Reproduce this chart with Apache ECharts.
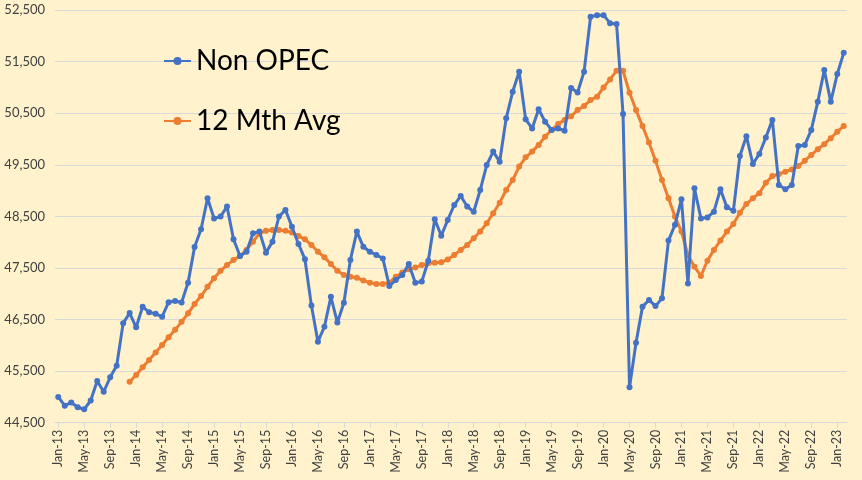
<!DOCTYPE html>
<html>
<head>
<meta charset="utf-8">
<script src="https://cdn.jsdelivr.net/npm/echarts@6/dist/echarts.min.js"></script>
<style>
html,body{margin:0;padding:0;background:#FFF2CC;}
#chart{width:862px;height:480px;}
</style>
</head>
<body>
<div id="chart"></div>
<script>
const categories = [
'Jan-13','Feb-13','Mar-13','Apr-13','May-13','Jun-13','Jul-13','Aug-13','Sep-13','Oct-13','Nov-13','Dec-13',
'Jan-14','Feb-14','Mar-14','Apr-14','May-14','Jun-14','Jul-14','Aug-14','Sep-14','Oct-14','Nov-14','Dec-14',
'Jan-15','Feb-15','Mar-15','Apr-15','May-15','Jun-15','Jul-15','Aug-15','Sep-15','Oct-15','Nov-15','Dec-15',
'Jan-16','Feb-16','Mar-16','Apr-16','May-16','Jun-16','Jul-16','Aug-16','Sep-16','Oct-16','Nov-16','Dec-16',
'Jan-17','Feb-17','Mar-17','Apr-17','May-17','Jun-17','Jul-17','Aug-17','Sep-17','Oct-17','Nov-17','Dec-17',
'Jan-18','Feb-18','Mar-18','Apr-18','May-18','Jun-18','Jul-18','Aug-18','Sep-18','Oct-18','Nov-18','Dec-18',
'Jan-19','Feb-19','Mar-19','Apr-19','May-19','Jun-19','Jul-19','Aug-19','Sep-19','Oct-19','Nov-19','Dec-19',
'Jan-20','Feb-20','Mar-20','Apr-20','May-20','Jun-20','Jul-20','Aug-20','Sep-20','Oct-20','Nov-20','Dec-20',
'Jan-21','Feb-21','Mar-21','Apr-21','May-21','Jun-21','Jul-21','Aug-21','Sep-21','Oct-21','Nov-21','Dec-21',
'Jan-22','Feb-22','Mar-22','Apr-22','May-22','Jun-22','Jul-22','Aug-22','Sep-22','Oct-22','Nov-22','Dec-22',
'Jan-23','Feb-23'
];

const nonOpec = [
45000,44830,44890,44800,44760,44930,45310,45100,45380,45605,46430,46625,
46350,46750,46640,46610,46555,46835,46860,46830,47215,47905,48250,48850,
48460,48495,48690,48055,47730,47815,48170,48205,47795,48010,48495,48625,
48300,47965,47670,46770,46070,46360,46940,46440,46825,47655,48205,47910,
47815,47750,47685,47150,47265,47365,47575,47215,47235,47640,48445,48125,
48430,48720,48895,48690,48590,49010,49495,49755,49560,50400,50915,51305,
50380,50205,50575,50335,50175,50205,50160,50990,50900,51305,52370,52400,
52400,52245,52230,50485,45185,46050,46750,46880,46760,46910,48030,48335,
48830,47200,49045,48460,48480,48590,49025,48675,48610,49670,50055,49515,
49710,50030,50370,49110,49025,49110,49865,49885,50175,50720,51335,50720,
51260,51670
];

const avg12 = [
null,null,null,null,null,null,null,null,null,null,null,45295,
45425,45575,45715,45860,46005,46155,46300,46455,46620,46800,46955,47135,
47300,47445,47555,47655,47730,47850,48010,48170,48220,48235,48235,48220,
48185,48120,48055,47945,47815,47705,47575,47445,47365,47330,47310,47255,
47215,47190,47190,47215,47330,47410,47475,47510,47555,47590,47600,47610,
47665,47750,47850,47945,48075,48205,48365,48560,48765,49010,49205,49465,
49645,49755,49885,50045,50175,50290,50370,50440,50560,50640,50755,50820,
51000,51155,51320,51320,50895,50560,50250,49930,49580,49205,48850,48495,
48205,47750,47525,47345,47640,47850,48030,48205,48350,48570,48740,48850,
48950,49150,49280,49320,49365,49410,49475,49580,49690,49800,49900,50015,
50140,50250
];

const seriesNames = ['Non OPEC', '12 Mth Avg'];
const colors = ['#4472C4', '#ED7D31'];

const chart = echarts.init(document.getElementById('chart'), null, {renderer: 'canvas'});
chart.setOption({
  backgroundColor: '#FFF2CC',
  animation: false,
  textStyle: {fontFamily: 'Lato'},
  grid: {left: 55, right: 15, top: 10, bottom: 57.3, containLabel: false},
  legend: {
    orient: 'vertical',
    left: 158,
    top: 42,
    itemWidth: 27,
    itemHeight: 10,
    itemGap: 32,
    textStyle: {fontSize: 28, color: '#000000', fontFamily: 'Lato'},
    data: seriesNames
  },
  xAxis: {
    type: 'category',
    data: categories,
    boundaryGap: true,
    axisLine: {show: true, lineStyle: {color: '#D9D9D9', width: 1}},
    axisTick: {show: true, interval: 3, alignWithLabel: true, length: 5, lineStyle: {color: '#D9D9D9'}},
    axisLabel: {interval: 3, rotate: 90, fontSize: 12.5, color: '#404040', margin: 7, fontFamily: 'Lato'},
    splitLine: {show: false}
  },
  yAxis: {
    type: 'value',
    min: 44500,
    max: 52500,
    interval: 1000,
    axisLine: {show: false},
    axisTick: {show: false},
    axisLabel: {
      fontSize: 13, color: '#404040', margin: 10, fontFamily: 'Lato',
      formatter: v => v.toLocaleString('en-US')
    },
    splitLine: {show: true, lineStyle: {color: '#D9D9D9', width: 1}}
  },
  series: [
    {
      name: seriesNames[0], type: 'line', data: nonOpec,
      symbol: 'circle', symbolSize: 6, showSymbol: true, showAllSymbol: true,
      lineStyle: {color: colors[0], width: 3},
      itemStyle: {color: colors[0]},
      z: 3
    },
    {
      name: seriesNames[1], type: 'line', data: avg12,
      symbol: 'circle', symbolSize: 6, showSymbol: true, showAllSymbol: true,
      lineStyle: {color: colors[1], width: 3},
      itemStyle: {color: colors[1]},
      z: 2
    }
  ]
});
</script>
</body>
</html>
